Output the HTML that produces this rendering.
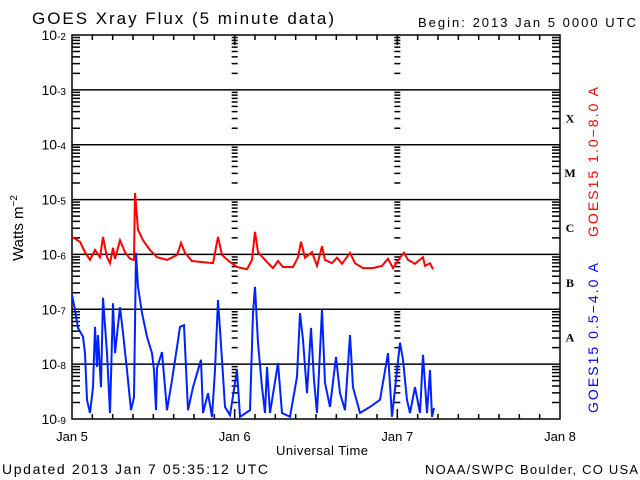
<!DOCTYPE html>
<html><head><meta charset="utf-8"><style>
body{margin:0;background:#fff;}
svg{display:block;font-family:"Liberation Sans",sans-serif;}
</style></head><body>
<svg id="c" width="640" height="480" viewBox="0 0 640 480">
<text x="32" y="24" font-size="17" textLength="302" lengthAdjust="spacing">GOES Xray Flux (5 minute data)</text>
<text x="418" y="27" font-size="13" textLength="218" lengthAdjust="spacing">Begin:  2013 Jan 5 0000 UTC</text>
<text x="322" y="455" font-size="13" text-anchor="middle" textLength="92" lengthAdjust="spacing">Universal Time</text>
<text x="2" y="474" font-size="14" textLength="266" lengthAdjust="spacing">Updated 2013 Jan  7 05:35:12 UTC</text>
<text x="425" y="474" font-size="13" textLength="213" lengthAdjust="spacing">NOAA/SWPC Boulder, CO USA</text>
<text transform="translate(23,228) rotate(-90)" font-size="15" text-anchor="middle">Watts m<tspan dy="-6" font-size="10">−2</tspan></text>
<text transform="translate(598,162) rotate(-90)" font-size="14" fill="#f00" text-anchor="middle" textLength="150" lengthAdjust="spacing">GOES15 1.0−8.0 A</text>
<text transform="translate(598,338) rotate(-90)" font-size="14" fill="#00f" text-anchor="middle" textLength="150" lengthAdjust="spacing">GOES15 0.5−4.0 A</text>
<g id="axes"></g>
<g id="series"></g>
</svg>
<script>
const dayLabels = ["Jan 5","Jan 6","Jan 7","Jan 8"];
const decades = [-2,-3,-4,-5,-6,-7,-8,-9];
const classLabels = ["X","M","C","B","A"];
const redHours = [0,1.18,1.92,2.66,3.39,4.13,4.57,5.16,5.61,6.05,6.34,7.08,7.82,8.56,9.15,9.29,9.74,10.47,11.51,12.54,14.02,15.49,16.08,16.67,17.70,19.33,20.80,21.54,22.13,23.31,24.34,25.82,26.56,27.0,27.44,28.77,29.66,30.39,31.13,32.61,33.34,33.79,34.38,35.41,36.15,36.88,37.33,38.36,39.10,39.84,41.02,41.75,42.93,44.41,45.74,46.62,47.36,48.39,48.98,49.57,50.61,51.79,52.08,52.82,53.26];
const redLog = [-5.68,-5.77,-5.96,-6.10,-5.92,-6.05,-5.68,-6.05,-6.16,-5.88,-6.08,-5.74,-5.96,-6.08,-6.10,-4.88,-5.55,-5.74,-5.92,-6.05,-6.10,-6.01,-5.79,-5.97,-6.12,-6.14,-6.16,-5.68,-6.01,-6.14,-6.23,-6.27,-6.10,-5.59,-5.96,-6.14,-6.25,-6.12,-6.23,-6.23,-6.05,-5.77,-6.06,-5.96,-6.21,-5.85,-6.10,-6.16,-6.06,-6.17,-5.97,-6.16,-6.25,-6.25,-6.21,-6.08,-6.25,-6.06,-5.97,-6.10,-6.17,-6.05,-6.21,-6.16,-6.27];
const blueHours = [0,0.44,0.89,1.62,1.92,2.21,2.66,3.10,3.39,3.69,3.84,4.28,4.57,5.16,5.61,6.05,6.34,7.08,7.52,8.11,8.70,9.15,9.44,9.74,10.33,11.07,11.80,12.10,12.39,12.54,13.28,14.02,14.75,15.49,15.93,16.52,17.11,17.85,19.03,19.33,20.07,20.66,21.10,21.54,22.13,22.57,23.31,24.34,24.79,26.26,26.70,27.0,27.44,28.03,28.47,28.77,29.21,30.39,30.98,32.16,33.20,33.64,34.08,34.67,35.26,35.70,36.15,36.88,37.33,38.06,38.95,39.54,40.28,41.02,41.46,42.49,43.97,45.44,46.62,47.21,48.39,48.84,49.42,49.87,50.61,51.34,51.79,52.38,52.82,53.11,53.41];
const blueLog = [-6.74,-7.01,-7.34,-7.50,-7.80,-8.65,-8.89,-8.42,-7.32,-8.05,-7.47,-8.42,-6.79,-7.80,-8.89,-6.89,-7.80,-6.96,-7.43,-8.11,-8.84,-8.60,-5.97,-6.59,-7.07,-7.50,-7.80,-8.11,-8.84,-8.07,-7.78,-8.84,-8.29,-7.69,-7.32,-7.29,-8.84,-8.42,-7.92,-8.89,-8.53,-8.96,-8.11,-6.83,-7.92,-8.78,-8.93,-8.11,-8.96,-8.84,-7.07,-6.59,-7.61,-8.42,-8.89,-8.05,-8.89,-7.98,-8.89,-8.96,-8.23,-7.07,-7.56,-8.53,-7.34,-8.29,-8.89,-7.01,-8.34,-8.78,-7.87,-8.53,-8.84,-7.47,-8.42,-8.89,-8.78,-8.65,-7.80,-8.96,-7.61,-7.92,-8.65,-8.89,-8.42,-8.89,-7.83,-8.89,-8.11,-8.96,-8.80];

const L=72,R=560,T=35,B=419;
const xS=h=>L+(R-L)*h/72;
const yS=lg=>T+(B-T)*(-2-lg)/7;
const NS="http://www.w3.org/2000/svg";
function mk(tag,attrs,parent){const e=document.createElementNS(NS,tag);for(const k in attrs)e.setAttribute(k,attrs[k]);parent.appendChild(e);return e;}
const ax=document.getElementById('axes');
let d="";
d+=`M${L} ${T}H${R}V${B}H${L}Z`;
decades.forEach(p=>{const y=yS(p);d+=`M${L} ${y}H${R}`;});
for(let p=-3;p>=-9;p--){for(let m=2;m<=9;m++){const y=yS(p+Math.log10(m));
 d+=`M${L} ${y}h8M${R} ${y}h-8`;
 [1,2].forEach(dd=>{const x=xS(dd*24);d+=`M${x-3} ${y}h6`;});}}
for(let h=3;h<72;h+=3){const x=xS(h);const len=(h%24===0)?10:5;d+=`M${x} ${B}v-${len}M${x} ${T}v${len}`;}
const ap=mk('path',{d:d,stroke:'#000','stroke-width':1.5,fill:'none'},ax);


decades.forEach(p=>{const y=yS(p);
 const t=mk('text',{x:66,y:y+5,'font-size':14,'text-anchor':'end'},ax);
 
 
 t.innerHTML=`10<tspan dy="-6" font-size="10">${p}</tspan>`.replace('-','−');});
dayLabels.forEach((s,i)=>{const t=mk('text',{x:xS(i*24),y:441,'font-size':13,'text-anchor':'middle'},ax);
 
 
 t.textContent=s;});
classLabels.forEach((s,i)=>{const t=mk('text',{x:570,y:yS(-3.5-i)+5,'font-size':12,'font-weight':'bold','text-anchor':'middle','font-family':'Liberation Serif, serif'},ax);
 
 
 t.textContent=s;});
const sg=document.getElementById('series');
function line(hs,vs,col,name){const pts=hs.map((h,i)=>xS(h).toFixed(1)+','+yS(Math.max(vs[i],-9)).toFixed(1)).join(' ');
 const p=mk('polyline',{points:pts,stroke:col,'stroke-width':2,fill:'none','stroke-linejoin':'miter'},sg);
 
 }
line(redHours,redLog,'#f00','series-long-channel');
line(blueHours,blueLog,'#0022ff','series-short-channel');
</script>
</body></html>
